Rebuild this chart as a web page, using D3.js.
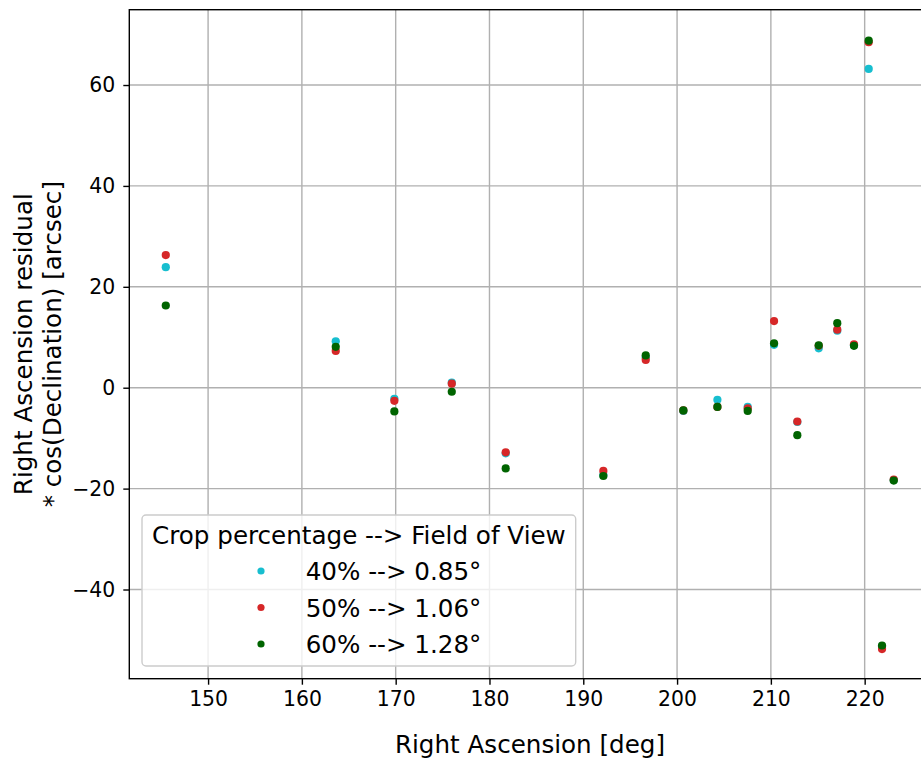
<!DOCTYPE html>
<html>
<head>
<meta charset="utf-8">
<script src="https://cdn.jsdelivr.net/npm/d3@7"></script>
<style>
  html, body { margin: 0; padding: 0; background: #fff; }
  svg { display: block; font-family: "DejaVu Sans", sans-serif; }
</style>
</head>
<body>
<svg id="chart" width="921" height="762"></svg>
<script>
// Right Ascension of each field (deg)
const raDeg = [145.49, 163.61, 169.86, 175.98, 181.73, 192.14, 196.66, 200.67,
               204.30, 207.53, 210.34, 212.82, 215.10, 217.08, 218.86, 220.43,
               221.85, 223.10];

// RA residual * cos(Dec) [arcsec] for each crop setting
const crop40 = [23.9, 9.2, -2.2, 1.0, -13.0, -17.3, 6.0, -4.6,
                -2.4, -3.8, 8.5, -6.8, 7.8, 11.3, 8.4, 63.2, -51.3, -18.3];
const crop50 = [26.3, 7.3, -2.6, 0.8, -12.8, -16.5, 5.5, -4.5,
                -3.8, -4.1, 13.2, -6.7, 8.3, 11.5, 8.6, 68.5, -51.8, -18.2];
const crop60 = [16.3, 8.1, -4.7, -0.8, -16.0, -17.5, 6.4, -4.5,
                -3.8, -4.6, 8.8, -9.4, 8.4, 12.8, 8.3, 68.8, -51.1, -18.4];

const seriesNames = ["40% --> 0.85°", "50% --> 1.06°", "60% --> 1.28°"];
const seriesColors = ["#17becf", "#d62728", "#006400"];
const legendTitle = "Crop percentage --> Field of View";

const xTicks = [150, 160, 170, 180, 190, 200, 210, 220];
const yTicks = [-40, -20, 0, 20, 40, 60];

const series = [crop40, crop50, crop60].map((vals, i) => ({
  name: seriesNames[i],
  color: seriesColors[i],
  points: vals.map((v, j) => ({ x: raDeg[j], y: v }))
}));

const svg = d3.select("#chart");
const plotL = 129.3, plotT = 9.7, plotB = 678.7, plotR = 932.2;
const tickFont = "20.4px", labelFont = "24.6px";

const x = d3.scaleLinear().domain([141.6, 227.2]).range([plotL, plotR]);
const y = d3.scaleLinear().domain([-57.68, 74.93]).range([plotB, plotT]);

// grid
const grid = svg.append("g");
grid.selectAll("line.gx").data(xTicks).join("line")
  .attr("x1", d => x(d)).attr("x2", d => x(d))
  .attr("y1", plotT).attr("y2", plotB)
  .attr("stroke", "#b0b0b0").attr("stroke-width", 1.4);
grid.selectAll("line.gy").data(yTicks).join("line")
  .attr("x1", plotL).attr("x2", plotR)
  .attr("y1", d => y(d)).attr("y2", d => y(d))
  .attr("stroke", "#b0b0b0").attr("stroke-width", 1.4);

// axes
const xAxis = d3.axisBottom(x).tickValues(xTicks).tickSize(6).tickPadding(7)
  .tickFormat(d3.format("d"));
const yAxis = d3.axisLeft(y).tickValues(yTicks).tickSize(6).tickPadding(8)
  .tickFormat(d3.format("d"));

const gx = svg.append("g").attr("transform", `translate(0,${plotB})`).call(xAxis);
const gy = svg.append("g").attr("transform", `translate(${plotL},0)`).call(yAxis);
[gx, gy].forEach(g => {
  g.select(".domain").remove();
  g.selectAll(".tick line").attr("stroke", "#000").attr("stroke-width", 1.4);
  g.selectAll(".tick text").attr("fill", "#000")
    .style("font-family", "DejaVu Sans").style("font-size", tickFont);
});

// spines
svg.append("rect")
  .attr("x", plotL).attr("y", plotT)
  .attr("width", plotR - plotL).attr("height", plotB - plotT)
  .attr("fill", "none").attr("stroke", "#000").attr("stroke-width", 1.4);

// points: drawn in series order so later series sit on top
series.forEach(s => {
  svg.append("g").selectAll("circle").data(s.points).join("circle")
    .attr("cx", d => x(d.x)).attr("cy", d => y(d.y))
    .attr("r", 4.1).attr("fill", s.color);
});

// axis labels
svg.append("text")
  .attr("x", 530).attr("y", 753)
  .attr("text-anchor", "middle").style("font-size", labelFont)
  .text("Right Ascension [deg]");

const yl = svg.append("text")
  .attr("transform", `translate(32,${(plotT + plotB) / 2}) rotate(-90)`)
  .attr("text-anchor", "middle").style("font-size", labelFont);
yl.append("tspan").attr("x", 0).attr("y", 0).text("Right Ascension residual");
yl.append("tspan").attr("x", 0).attr("y", 29).text("* cos(Declination) [arcsec]");

// legend
const lg = svg.append("g");
lg.append("rect")
  .attr("x", 142).attr("y", 515).attr("width", 433.7).attr("height", 151)
  .attr("rx", 4).attr("ry", 4)
  .attr("fill", "#fff").attr("fill-opacity", 0.8)
  .attr("stroke", "#cccccc").attr("stroke-width", 1.4);
lg.append("text")
  .attr("x", 358.9).attr("y", 544)
  .attr("text-anchor", "middle").style("font-size", labelFont)
  .text(legendTitle);
series.forEach((s, i) => {
  const cy = 571 + i * 36.5;
  lg.append("circle").attr("cx", 261).attr("cy", cy).attr("r", 3.6).attr("fill", s.color);
  lg.append("text").attr("x", 305.7).attr("y", cy + 9)
    .style("font-size", labelFont).text(s.name);
});
</script>
</body>
</html>
